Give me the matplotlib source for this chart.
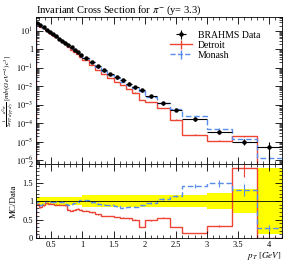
import numpy as np
import matplotlib
matplotlib.use("Agg")
import matplotlib.pyplot as plt
from matplotlib.ticker import FixedLocator, MultipleLocator, LogLocator, NullFormatter, FuncFormatter

plt.rcParams['font.family'] = ['Liberation Serif', 'DejaVu Serif']
plt.rcParams['mathtext.fontset'] = 'stix'

# bin edges in pT [GeV]
edges = [0.25, 0.30, 0.35, 0.40, 0.45, 0.50, 0.55, 0.60, 0.65, 0.70, 0.75,
         0.80, 0.85, 0.90, 0.95, 1.00, 1.1, 1.2, 1.3, 1.4, 1.5, 1.6, 1.7,
         1.8, 1.9, 2.0, 2.2, 2.4, 2.6, 3.0, 3.4, 3.8, 4.2]

# BRAHMS data
data = [28.2, 20.9, 15.8, 11.7, 8.9, 6.8, 5.1, 3.9, 2.95, 2.29, 1.74,
        1.29, 0.95, 0.71, 0.52, 0.35, 0.21, 0.123, 0.074, 0.047, 0.031,
        0.021, 0.0138, 0.0091, 0.006, 0.0028, 0.00117, 0.00052, 1.66e-4,
        3.4e-5, 1.0e-5, 5.0e-6]
data_rel_err = [0.12] * 15 + [0.17] * 14 + [0.22, 0.33, 0.9]

# MC / Data ratios
ratio_detroit = [0.92, 0.83, 0.88, 0.95, 0.93, 0.92, 0.90, 0.90, 0.89, 0.88,
                 0.77, 0.74, 0.77, 0.79, 0.77, 0.74, 0.69, 0.64, 0.60, 0.59,
                 0.57, 0.55, 0.53, 0.50, 0.30, 0.48, 0.55, 0.30, 0.14, 0.33,
                 1.88, 0.0]
ratio_monash = [0.97, 0.88, 0.92, 1.00, 0.98, 0.97, 0.98, 0.97, 0.98, 0.92,
                0.90, 0.92, 0.95, 0.98, 1.03, 1.02, 0.96, 0.93, 0.90, 0.88,
                0.86, 0.82, 0.85, 0.85, 0.88, 0.95, 1.05, 1.14, 1.40, 1.48,
                1.30, 0.27]
mc_rel_err = [0.01] * 25 + [0.02, 0.02, 0.03, 0.04, 0.06, 0.12, 0.3]

edges = np.array(edges)
data = np.array(data)
centers = 0.5 * (edges[1:] + edges[:-1])
halfw = 0.5 * (edges[1:] - edges[:-1])
derr = data * np.array(data_rel_err)
detroit = data * np.array(ratio_detroit)
monash = data * np.array(ratio_monash)
mcerr = np.array(mc_rel_err)

red = '#EE4433'
blue = '#5A8CEE'

fig = plt.figure(figsize=(2.91, 2.63), dpi=100)
ax = fig.add_axes([0.123, 0.3764, 0.845, 0.56])
rax = fig.add_axes([0.123, 0.095, 0.845, 0.2814])

# main panel
ax.stairs(detroit, edges, color=red, lw=1.0)
ax.errorbar(centers, detroit, yerr=detroit * mcerr, fmt='none', ecolor=red, lw=0.8)
ax.stairs(monash, edges, color=blue, lw=1.0, ls=(0, (4, 2)))
ax.errorbar(centers, monash, yerr=monash * mcerr, fmt='none', ecolor=blue, lw=0.8)
ax.errorbar(centers, data, xerr=halfw, yerr=derr, fmt='o', ms=2.2, color='k',
            lw=0.8, capsize=0)
ax.set_yscale('log')
ax.set_xlim(0.25, 4.2)
ax.set_ylim(6e-7, 60)

ax.yaxis.set_major_locator(FixedLocator([10.0 ** k for k in range(-6, 2)]))
ax.yaxis.set_minor_locator(LogLocator(base=10, subs=np.arange(2, 10), numticks=20))
ax.yaxis.set_minor_formatter(NullFormatter())


def logfmt(v, pos):
    k = int(round(np.log10(v)))
    if k == 0:
        return '1'
    return r'$10^{%d}$' % k


ax.yaxis.set_major_formatter(FuncFormatter(logfmt))
ax.xaxis.set_major_locator(MultipleLocator(0.5))
ax.xaxis.set_minor_locator(MultipleLocator(0.1))
ax.tick_params(axis='x', labelbottom=False)

for a in (ax, rax):
    a.tick_params(which='both', direction='in', top=True, right=True, labelsize=6)
    a.tick_params(which='major', length=5, width=0.6, pad=2)
    a.tick_params(which='minor', length=2.5, width=0.5)
    for s in a.spines.values():
        s.set_linewidth(0.6)

ax.set_title(r'Invariant Cross Section for $\pi^{-}$ (y= 3.3)', fontsize=7.6,
             loc='left', pad=3)
fig.text(0.028, 0.655,
         r'$\frac{1}{2\pi p_T}\frac{d^2\sigma}{dp_T\,dy}$ $[mb(GeV^{-2})c^3]$',
         fontsize=5.2, rotation=90, ha='center', va='center')

h_data = ax.errorbar([], [], xerr=[], yerr=[], fmt='o', ms=2.2, color='k', lw=0.8)
h_det = ax.errorbar([], [], yerr=[], color=red, lw=1.0)
h_mon = ax.errorbar([], [], yerr=[], color=blue, lw=1.0, ls='--')
ax.legend([h_data, h_det, h_mon], ['BRAHMS Data', 'Detroit', 'Monash'],
          loc='upper left', bbox_to_anchor=(0.52, 0.95), frameon=False,
          fontsize=7, handlelength=2.2, labelspacing=0.1, borderpad=0.2,
          handletextpad=0.6)

# ratio panel
lo = 1 - np.array(data_rel_err)
hi = 1 + np.array(data_rel_err)
rax.stairs(hi, edges, baseline=lo, fill=True, color='#FFFF00', lw=0)
rax.axhline(1.0, color='k', lw=0.6)
rax.stairs(ratio_detroit, edges, color=red, lw=1.0)
rax.errorbar(centers, ratio_detroit, yerr=np.array(ratio_detroit) * mcerr,
             fmt='none', ecolor=red, lw=0.8)
rax.stairs(ratio_monash, edges, color=blue, lw=1.0, ls=(0, (4, 2)))
rax.errorbar(centers, ratio_monash, yerr=np.array(ratio_monash) * mcerr,
             fmt='none', ecolor=blue, lw=0.8)
rax.set_xlim(0.25, 4.2)
rax.set_ylim(0, 2)
rax.yaxis.set_major_locator(FixedLocator([0, 0.5, 1, 1.5, 2]))
rax.yaxis.set_major_formatter(FuncFormatter(lambda v, p: '%g' % v))
rax.yaxis.set_minor_locator(MultipleLocator(0.1))
rax.xaxis.set_major_locator(MultipleLocator(0.5))
rax.xaxis.set_minor_locator(MultipleLocator(0.1))
rax.xaxis.set_major_formatter(FuncFormatter(lambda v, p: '%g' % v))
rax.set_ylabel('MC/Data', fontsize=6.5, labelpad=3)
fig.text(0.968, 0.004, r'$p_T$ $[GeV]$', fontsize=6.5, ha='right', va='bottom')

fig.savefig('out.png', dpi=100)
